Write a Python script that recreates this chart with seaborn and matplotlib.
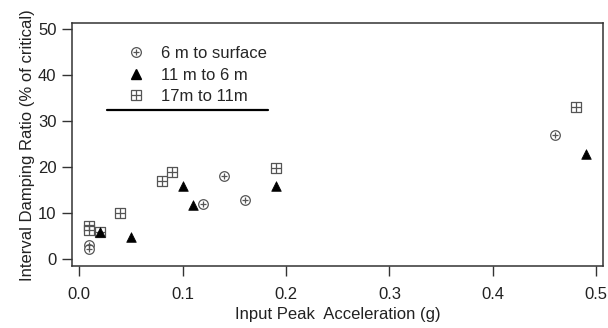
import numpy as np
import pandas as pd
import seaborn as sns
import matplotlib.pyplot as plt
from matplotlib.lines import Line2D
from matplotlib.legend_handler import HandlerTuple

# 6 m to surface
surf_x = [0.01, 0.01, 0.12, 0.14, 0.16, 0.46]
surf_y = [3.2, 2.2, 12.1, 18.1, 13.0, 27.0]
# 11 m to 6 m
mid_x = [0.02, 0.05, 0.10, 0.11, 0.19, 0.49]
mid_y = [5.9, 4.9, 15.9, 11.9, 15.9, 23.0]
# 17m to 11m
deep_x = [0.01, 0.01, 0.02, 0.04, 0.08, 0.09, 0.19, 0.48]
deep_y = [7.2, 6.3, 5.9, 10.0, 17.0, 18.9, 19.9, 33.1]

labels = ['6 m to surface', '11 m to 6 m', '17m to 11m']

sns.set_style('ticks')
plt.rcParams['font.family'] = ['Liberation Sans', 'DejaVu Sans']

fig = plt.figure(figsize=(6.08, 3.28), dpi=100)
ax = fig.add_axes([0.118, 0.189, 0.874, 0.740])

grey = '#555555'
surf = pd.DataFrame({'x': surf_x, 'y': surf_y})
mid = pd.DataFrame({'x': mid_x, 'y': mid_y})
deep = pd.DataFrame({'x': deep_x, 'y': deep_y})

# circle with plus
sns.scatterplot(data=surf, x='x', y='y', marker='o', s=48, facecolor='white',
                edgecolor=grey, linewidth=0.9, ax=ax, zorder=3)
sns.scatterplot(data=surf, x='x', y='y', marker='+', s=14, color=grey,
                linewidth=0.9, ax=ax, zorder=4)
# squares with cross
sns.scatterplot(data=deep, x='x', y='y', marker='s', s=48, facecolor='white',
                edgecolor=grey, linewidth=0.9, ax=ax, zorder=3)
sns.scatterplot(data=deep, x='x', y='y', marker='+', s=48, color=grey,
                linewidth=0.9, ax=ax, zorder=4)
# filled triangles
sns.scatterplot(data=mid, x='x', y='y', marker='^', s=48, color='black',
                edgecolor='black', linewidth=0.5, ax=ax, zorder=5)

ax.set_xlim(-0.0071, 0.5066)
ax.set_ylim(-1.45, 51.3)
ax.set_xticks([0.0, 0.1, 0.2, 0.3, 0.4, 0.5])
ax.set_xticklabels(['0.0', '0.1', '0.2', '0.3', '0.4', '0.5'])
ax.set_yticks([0, 10, 20, 30, 40, 50])

ax.set_xlabel('Input Peak  Acceleration (g)', fontsize=12, color='#222222', labelpad=4)
ax.set_ylabel('Interval Damping Ratio (% of critical)', fontsize=12, color='#222222', labelpad=2)

for s in ['left', 'top', 'right', 'bottom']:
    ax.spines[s].set_visible(True)
    ax.spines[s].set_color('#333333')
    ax.spines[s].set_linewidth(1.1)

ax.tick_params(axis='both', direction='out', colors='#333333', width=1.0,
               length=7, labelsize=12, labelcolor='#222222')
ax.tick_params(axis='y', pad=4)
ax.tick_params(axis='x', pad=8)

h1 = (Line2D([], [], marker='o', ls='', ms=7, mfc='white', mec=grey, mew=0.9),
      Line2D([], [], marker='+', ls='', ms=3.8, mec=grey, mew=0.9))
h2 = Line2D([], [], marker='^', ls='', ms=7, color='black')
h3 = (Line2D([], [], marker='s', ls='', ms=7, mfc='white', mec=grey, mew=0.9),
      Line2D([], [], marker='+', ls='', ms=7, mec=grey, mew=0.9))
leg = ax.legend([h1, h2, h3], labels, handler_map={tuple: HandlerTuple(ndivide=1)},
                loc='upper left', bbox_to_anchor=(0.09, 0.94), frameon=False,
                borderpad=0, fontsize=12, handlelength=1.0, handletextpad=0.98,
                labelspacing=0.38)

# underline below the legend
ax.plot([0.066, 0.369], [0.644, 0.644], transform=ax.transAxes, color='black', lw=1.6)

fig.savefig('out.png', dpi=100)
